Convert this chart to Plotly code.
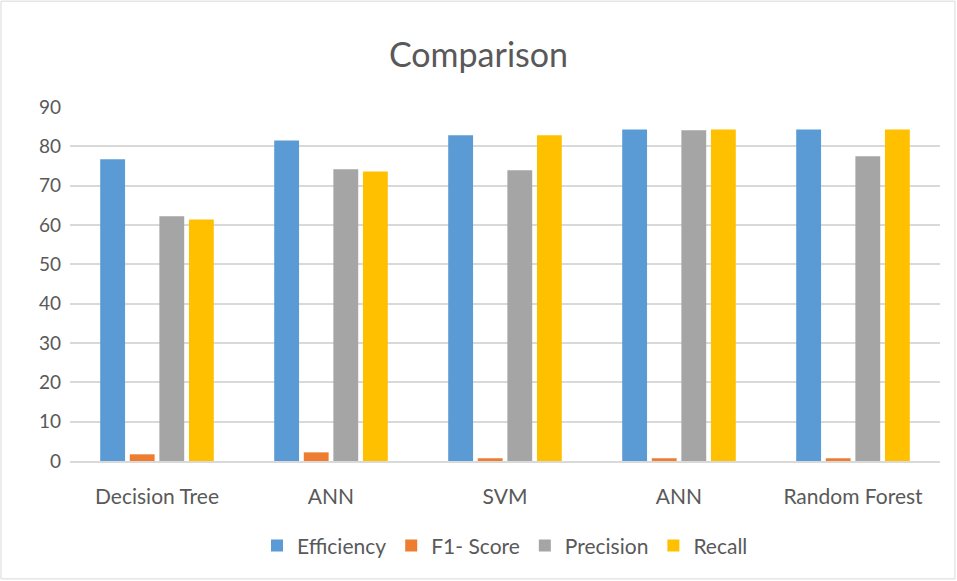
import plotly.graph_objects as go

categories = ["Decision Tree", "ANN", "SVM", "ANN", "Random Forest"]
efficiency = [76.7, 81.5, 82.8, 84.3, 84.3]
f1_score = [1.7, 2.2, 0.7, 0.7, 0.7]
precision = [62.2, 74.2, 73.9, 84.1, 77.5]
recall = [61.4, 73.6, 82.8, 84.3, 84.3]

series = [
    ("Efficiency", efficiency, "#5B9BD5"),
    ("F1- Score", f1_score, "#ED7D31"),
    ("Precision", precision, "#A5A5A5"),
    ("Recall", recall, "#FFC000"),
]

xpos = list(range(len(categories)))
fig = go.Figure()
for name, vals, col in series:
    fig.add_trace(go.Bar(x=xpos, y=vals, name=name, marker_color=col, marker_line_width=0))

font_fam = "Lato, Open Sans, Liberation Sans, sans-serif"
fig.update_layout(
    width=957, height=581,
    margin=dict(l=70, r=17, t=107, b=120),
    paper_bgcolor="white", plot_bgcolor="white",
    barmode="group", bargap=0.32, bargroupgap=0.16,
    title=dict(text="Comparison", x=0.5, xanchor="center", y=0.905, yanchor="middle",
               font=dict(family=font_fam, size=34, color="#595959")),
    font=dict(family=font_fam, color="#595959"),
    xaxis=dict(tickmode="array", tickvals=xpos, ticktext=categories,
               range=[-0.5, len(categories) - 0.5], showgrid=False,
               showline=True, linecolor="#d9d9d9", linewidth=1.5,
               tickfont=dict(size=21, color="#595959"), ticks="", ticklabelstandoff=16),
    yaxis=dict(range=[0, 90], dtick=10, showgrid=True, gridcolor="#d9d9d9", gridwidth=1.5,
               zeroline=False, showline=False,
               tickfont=dict(size=19, color="#595959"), ticks="", ticklabelstandoff=8),
    legend=dict(orientation="h", x=0.5, xanchor="center", y=-0.24, yanchor="middle",
                font=dict(size=21, color="#595959"), itemwidth=30),
    shapes=[dict(type="rect", xref="paper", yref="paper", x0=-0.0793, x1=1.0172, y0=-0.333, y1=1.299,
                 line=dict(color="#d9d9d9", width=1))],
)
fig.write_html("out.html", config={"displayModeBar": False},
               post_script="document.body.style.margin='0';document.body.style.padding='0';")
